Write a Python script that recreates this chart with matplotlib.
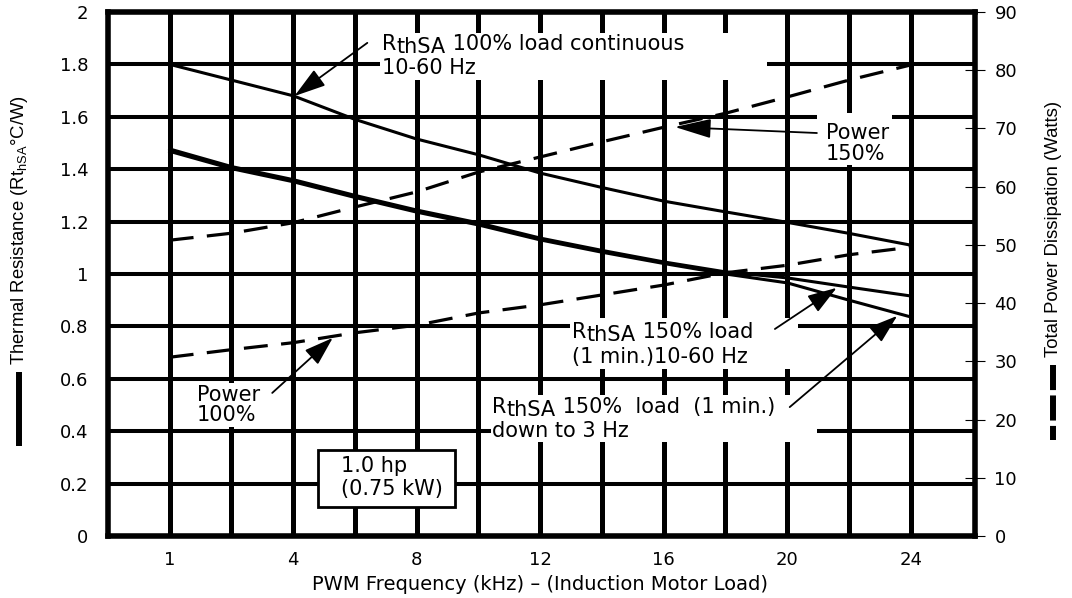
import numpy as np
import matplotlib
matplotlib.use("Agg")
import matplotlib.pyplot as plt
from matplotlib.patches import Rectangle
from matplotlib.lines import Line2D

plt.rcParams['font.family'] = ['DejaVu Sans']

# PWM frequency (kHz); the labelled ticks sit evenly spaced on the chart
tick_khz = [1, 4, 8, 12, 16, 20, 24]
khz = [1, 2.5, 4, 6, 8, 10, 12, 14, 16, 18, 20, 22, 24]

# thermal resistance (C/W), left axis
rth_100 = [1.80, 1.74, 1.68, 1.59, 1.515, 1.455, 1.385, 1.33, 1.278, 1.237, 1.197, 1.155, 1.11]
rth_150 = [1.477, 1.41, 1.36, 1.30, 1.244, 1.195, 1.137, 1.09, 1.046, 1.008, 0.985, 0.95, 0.916]
rth_150_3hz = [1.468, 1.402, 1.352, 1.292, 1.236, 1.187, 1.13, 1.083, 1.04, 1.0, 0.966, 0.90, 0.836]

# total power dissipation (W), right axis
pwr_150 = [50.8, 52.0, 53.8, 56.5, 59.1, 62.5, 65.1, 67.7, 70.2, 72.6, 75.4, 78.3, 80.9]
pwr_100 = [30.7, 32.0, 33.2, 34.9, 36.2, 38.3, 39.7, 41.4, 43.1, 45.2, 46.5, 48.3, 49.6]

left_ticks = [0, 0.2, 0.4, 0.6, 0.8, 1.0, 1.2, 1.4, 1.6, 1.8, 2.0]
left_labels = ['0', '0.2', '0.4', '0.6', '0.8', '1', '1.2', '1.4', '1.6', '1.8', '2']
right_ticks = [0, 10, 20, 30, 40, 50, 60, 70, 80, 90]


def pos(f):
    return np.interp(f, tick_khz, np.arange(len(tick_khz)))


x = pos(khz)

fig = plt.figure(figsize=(10.72, 5.98), dpi=100)
ax = fig.add_axes([0.1007, 0.1037, 0.8088, 0.8763])
ax2 = ax.twinx()

ax.set_xlim(-0.5, 6.52)
ax.set_ylim(0, 2)
ax2.set_ylim(0, 90)

ax.set_xticks(range(len(tick_khz)))
ax.set_xticklabels([str(t) for t in tick_khz])
ax.set_xticks(np.arange(0.5, 6, 1), minor=True)
ax.set_yticks(left_ticks)
ax.set_yticklabels(left_labels)
ax.set_axisbelow(True)
ax.grid(True, which='both', axis='x', color='k', lw=3.6)
ax.grid(True, which='major', axis='y', color='k', lw=2.9)
ax.tick_params(which='both', length=0, labelsize=13)
ax.tick_params(axis='y', pad=14)
ax.tick_params(axis='x', pad=11)

ax2.set_yticks(right_ticks)
ax2.tick_params(axis='y', direction='inout', length=14, width=0.8, labelsize=13, pad=7)
for s in ax.spines.values():
    s.set_linewidth(4)
for s in ax2.spines.values():
    s.set_visible(False)

# curves
ax.plot(x, rth_100, color='k', lw=2.2, zorder=3)
ax.plot(x, rth_150, color='k', lw=2.2, zorder=3)
ax.plot(x, rth_150_3hz, color='k', lw=2.2, zorder=3)
ax2.plot(x, pwr_150, color='k', lw=2.3, ls=(0, (7.5, 4.2)), zorder=3)
ax2.plot(x, pwr_100, color='k', lw=2.3, ls=(0, (7.5, 4.2)), zorder=3)

# white label areas cut the grid
for (x0, x1, y0, y1) in [(1.70, 4.84, 1.74, 1.92), (5.24, 5.85, 1.416, 1.614),
                         (3.24, 5.09, 0.637, 0.832), (2.60, 5.24, 0.359, 0.538),
                         (0.20, 0.77, 0.416, 0.584)]:
    ax.add_patch(Rectangle((x0, y0), x1 - x0, y1 - y0, fc='white', ec='none', zorder=1))
ax.add_patch(Rectangle((1.20, 0.111), 1.11, 0.217, fc='white', ec='k', lw=2, zorder=1))

fs = 15


def rth_label(x0, y0, rest):
    # "R" with a lowered, full-size "thSA" after it
    r = ax.text(x0, y0, 'R', fontsize=fs, va='baseline', zorder=4)
    s = ax.annotate('thSA', xy=(1, 0), xycoords=r, fontsize=fs, va='baseline', zorder=4,
                    xytext=(0, 1), textcoords='offset points')
    ax.annotate(rest, xy=(1, y0), xycoords=(s, 'data'), fontsize=fs, va='baseline', zorder=4)


def line(x0, y0, s):
    ax.text(x0, y0, s, fontsize=fs, va='baseline', zorder=4)


rth_label(1.72, 1.855, ' 100% load continuous')
line(1.72, 1.763, '10-60 Hz')
line(5.31, 1.515, 'Power')
line(5.31, 1.435, '150%')
rth_label(3.26, 0.756, ' 150% load')
line(3.26, 0.660, '(1 min.)10-60 Hz')
rth_label(2.61, 0.469, ' 150%  load  (1 min.)')
line(2.61, 0.378, 'down to 3 Hz')
line(0.22, 0.515, 'Power')
line(0.22, 0.439, '100%')
line(1.39, 0.244, '1.0 hp')
line(1.39, 0.156, '(0.75 kW)')


def arrow(tail, tip, hl=1.2):
    ax.annotate('', xy=tip, xytext=tail, zorder=5,
                arrowprops=dict(arrowstyle=f'-|>,head_length={hl},head_width=0.4',
                                lw=1.3, color='k', shrinkA=0, shrinkB=0, mutation_scale=15))


arrow((1.60, 1.882), (1.01, 1.679), 1.3)
arrow((5.24, 1.538), (4.09, 1.561), 1.5)
arrow((4.90, 0.790), (5.40, 0.947))
arrow((5.02, 0.492), (5.89, 0.840))
arrow((0.83, 0.546), (1.32, 0.756))

fig.text(540 / 1072, 1 - 585 / 598, 'PWM Frequency (kHz) \u2013 (Induction Motor Load)',
         fontsize=14, ha='center', va='center')

lab = ['Liberation Sans', 'DejaVu Sans']
fig.text(20 / 1072, 1 - 230 / 598, r'Thermal Resistance (Rt$_\mathregular{hSA}$°C/W)',
         rotation=90, fontsize=13.3, family=lab, ha='center', va='center')
fig.text(1053 / 1072, 1 - 229 / 598, 'Total Power Dissipation (Watts)',
         rotation=90, fontsize=13.3, family=lab, ha='center', va='center')
fig.add_artist(Line2D([19 / 1072] * 2, [1 - 372 / 598, 1 - 446 / 598], lw=4.3, color='k',
                      solid_capstyle='butt'))
fig.add_artist(Line2D([1053 / 1072] * 2, [1 - 365 / 598, 1 - 440 / 598], lw=4.3, color='k',
                      ls=(0, (4.2, 0.9)), dash_capstyle='butt'))

fig.savefig('out.png', dpi=100)
